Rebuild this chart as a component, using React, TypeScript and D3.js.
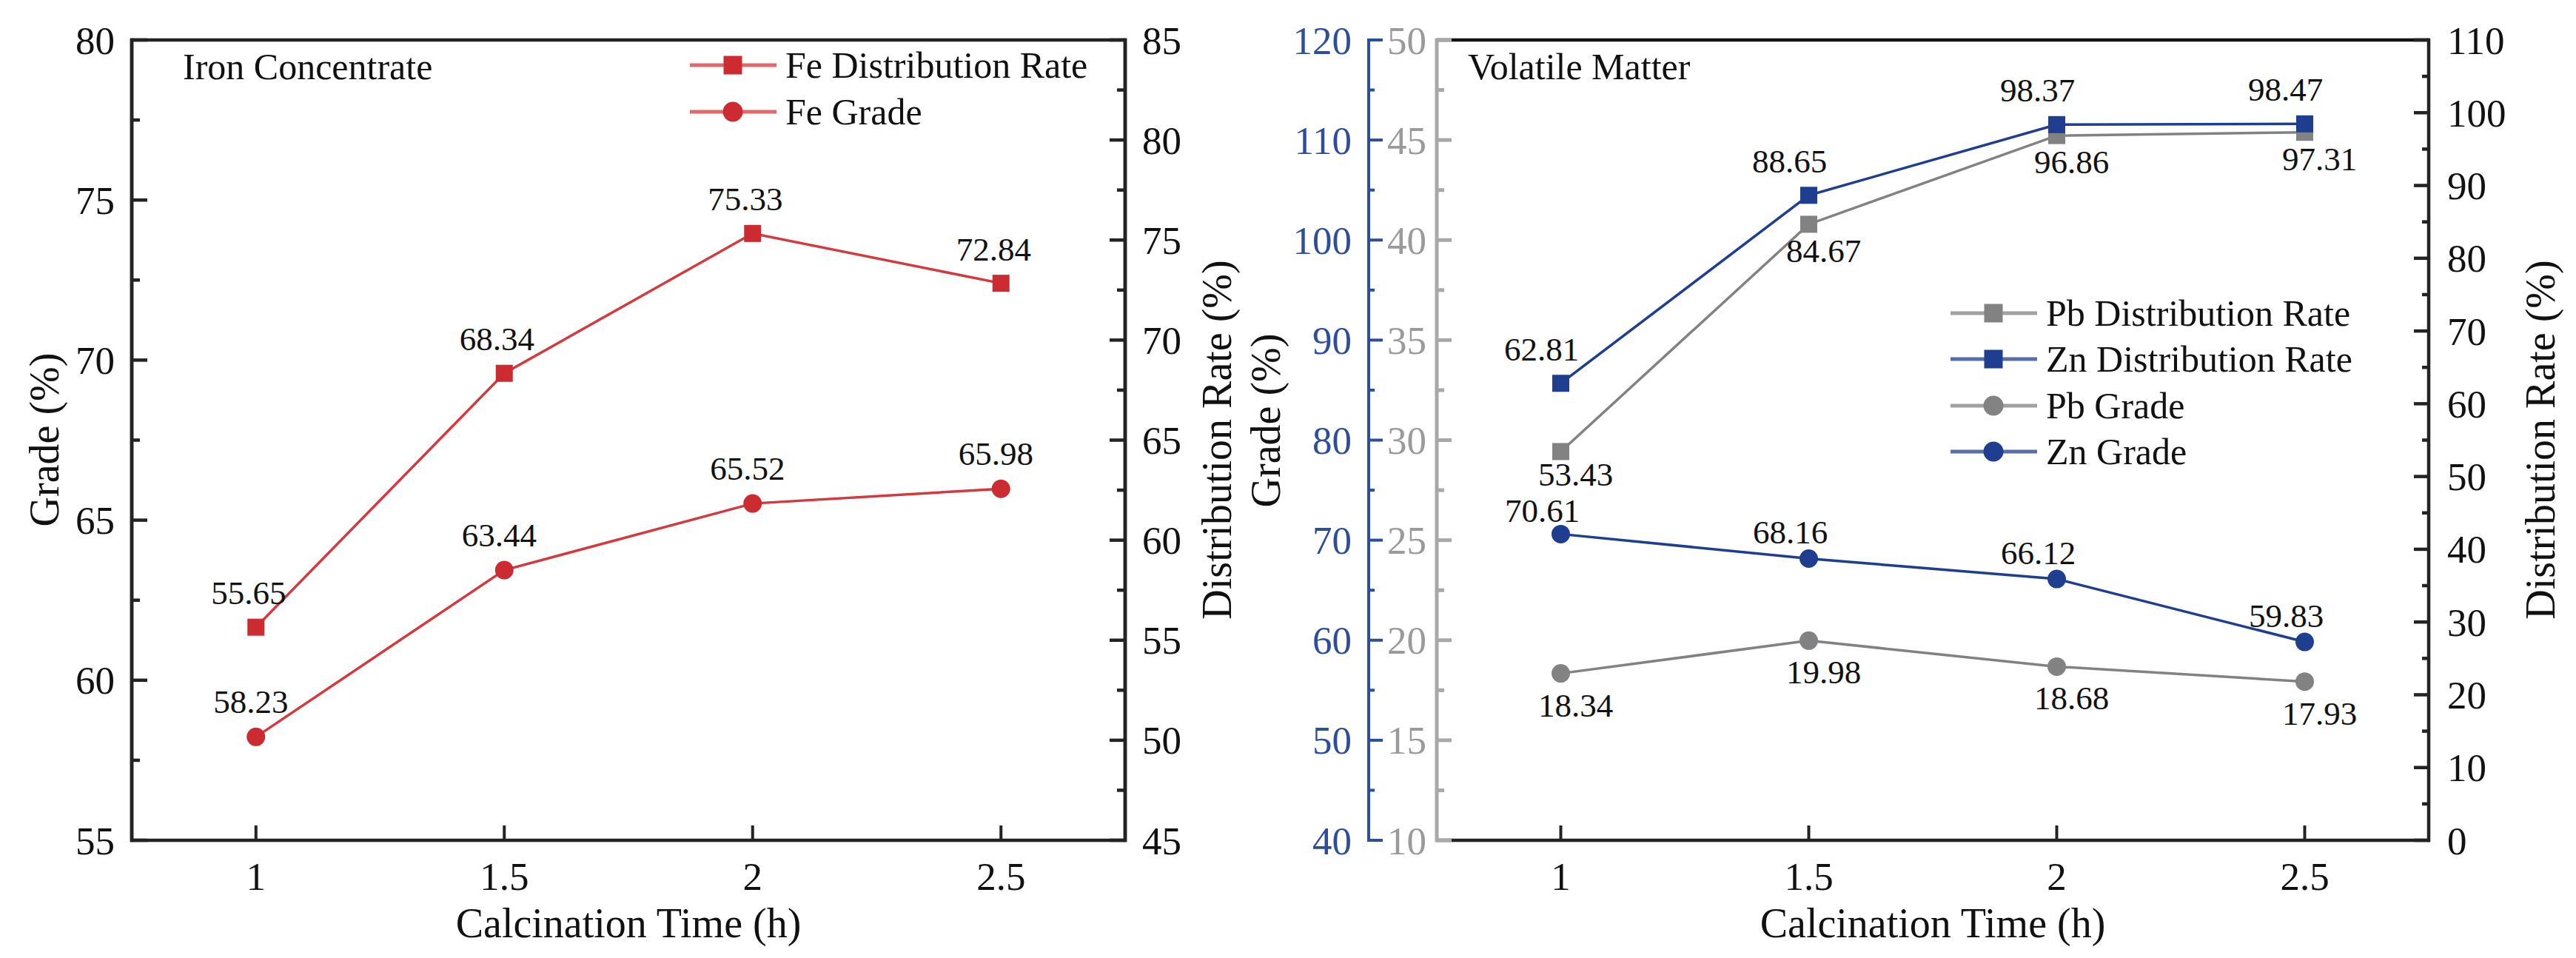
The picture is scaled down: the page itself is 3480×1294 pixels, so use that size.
import React from "react";
import * as d3 from "d3";

// ---------- data ----------
const times = [1, 1.5, 2, 2.5];
const xTickLabels = ["1", "1.5", "2", "2.5"];

// Iron concentrate
const feDistribution = [55.65, 68.34, 75.33, 72.84];
const feGrade = [58.23, 63.44, 65.52, 65.98];

// Volatile matter
const pbDistribution = [53.43, 84.67, 96.86, 97.31];
const znDistribution = [62.81, 88.65, 98.37, 98.47];
const pbGrade = [18.34, 19.98, 18.68, 17.93];
const znGrade = [70.61, 68.16, 66.12, 59.83];

// tick values
const feGradeTicks = [55, 60, 65, 70, 75, 80];
const feDistTicks = [45, 50, 55, 60, 65, 70, 75, 80, 85];
const pbGradeTicks = [10, 15, 20, 25, 30, 35, 40, 45, 50];
const znGradeTicks = [40, 50, 60, 70, 80, 90, 100, 110, 120];
const vmDistTicks = [0, 10, 20, 30, 40, 50, 60, 70, 80, 90, 100, 110];

// ---------- style ----------
const FONT = '"Liberation Serif", monospace';
const RED = "#CC2C31";
const RED_LINE = "#D4393E";
const BLUE = "#1F3E8F";
const GRAY = "#828282";
const GRAY_AXIS = "#A8A8A8";
const BLUE_AXIS = "#2D4D9D";
const FRAME = "#232323";
const TICK_FS = 53;
const LABEL_FS = 45;
const LEGEND_FS = 50;
const TITLE_FS = 56;

const TOP = 54;
const BOTTOM = 1135;

type Marker = "square" | "circle";

const txt = (fs: number, fill = "#111") => ({ fontSize: fs, fill, fontFamily: FONT } as React.CSSProperties);

function MarkerShape({ x, y, kind, color, size }: { x: number; y: number; kind: Marker; color: string; size: number }) {
  if (kind === "square")
    return <rect x={x - size / 2} y={y - size / 2} width={size} height={size} fill={color} />;
  return <circle cx={x} cy={y} r={size / 2 + 1} fill={color} />;
}

function Series({
  xs, ys, xScale, yScale, color, lineColor, kind, labelDx, labelDy,
}: {
  xs: number[]; ys: number[]; xScale: d3.ScaleLinear<number, number>; yScale: d3.ScaleLinear<number, number>;
  color: string; lineColor: string; kind: Marker; labelDx: number; labelDy: number[];
}) {
  const pts: [number, number][] = xs.map((t, i) => [xScale(t), yScale(ys[i])]);
  const path = d3.line()(pts) || "";
  return (
    <g>
      <path d={path} fill="none" stroke={lineColor} strokeWidth={3.5} />
      {pts.map(([px, py], i) => (
        <MarkerShape key={i} x={px} y={py} kind={kind} color={color} size={23} />
      ))}
      {pts.map(([px, py], i) => (
        <text key={"l" + i} x={px + labelDx} y={py + labelDy[i]} textAnchor="middle" style={txt(LABEL_FS)}>
          {ys[i].toFixed(2)}
        </text>
      ))}
    </g>
  );
}

function YAxis({
  x, scale, ticks, step, side, color, labelColor, labelGap, major = 21, minor = 11, width = 4.5, labelFs = TICK_FS,
}: {
  x: number; scale: d3.ScaleLinear<number, number>; ticks: number[]; step: number; side: "left" | "right";
  color: string; labelColor: string; labelGap: number; major?: number; minor?: number; width?: number; labelFs?: number;
}) {
  const dir = side === "left" ? 1 : -1;
  const minors = ticks.slice(0, -1).map((t) => t + step / 2);
  const [d0, d1] = scale.domain();
  return (
    <g>
      <line x1={x} x2={x} y1={scale(d0) + width / 2} y2={scale(d1) - width / 2} stroke={color} strokeWidth={width} />
      {ticks.map((t) => (
        <line key={"M" + t} x1={x} x2={x + dir * major} y1={scale(t)} y2={scale(t)} stroke={color} strokeWidth={width} />
      ))}
      {minors.map((t) => (
        <line key={"m" + t} x1={x} x2={x + dir * minor} y1={scale(t)} y2={scale(t)} stroke={color} strokeWidth={width} />
      ))}
      {ticks.map((t) => (
        <text
          key={"t" + t}
          x={side === "left" ? x - labelGap : x + labelGap}
          y={scale(t) + labelFs * 0.35}
          textAnchor={side === "left" ? "end" : "start"}
          style={txt(labelFs, labelColor)}
        >
          {t}
        </text>
      ))}
    </g>
  );
}

function XAxis({ scale }: { scale: d3.ScaleLinear<number, number> }) {
  return (
    <g>
      {times.map((t, i) => (
        <g key={t}>
          <line x1={scale(t)} x2={scale(t)} y1={BOTTOM} y2={BOTTOM - 20} stroke={FRAME} strokeWidth={4} />
          <text x={scale(t)} y={1202} textAnchor="middle" style={txt(TICK_FS)}>
            {xTickLabels[i]}
          </text>
        </g>
      ))}
      <text x={(scale.range()[0] + scale.range()[1]) / 2} y={1266} textAnchor="middle" style={txt(TITLE_FS)}>
        Calcination Time (h)
      </text>
    </g>
  );
}

function VTitle({ x, y, text }: { x: number; y: number; text: string }) {
  return (
    <text transform={`translate(${x},${y}) rotate(-90)`} textAnchor="middle" style={txt(TITLE_FS)}>
      {text}
    </text>
  );
}

function LegendRow({ x, y, color, lineColor, kind, label }: { x: number; y: number; color: string; lineColor: string; kind: Marker; label: string }) {
  return (
    <g>
      <line x1={x} x2={x + 117} y1={y} y2={y} stroke={lineColor} strokeWidth={5} opacity={0.75} />
      <MarkerShape x={x + 58} y={y} kind={kind} color={color} size={25} />
      <text x={x + 129} y={y + 17} style={txt(LEGEND_FS)}>
        {label}
      </text>
    </g>
  );
}

export default function App() {
  // left panel
  const L0 = 178, L1 = 1520;
  const xL = d3.scaleLinear().domain([0.75, 2.75]).range([L0, L1]);
  const yFeGrade = d3.scaleLinear().domain([55, 80]).range([BOTTOM, TOP]);
  const yFeDist = d3.scaleLinear().domain([45, 85]).range([BOTTOM, TOP]);

  // right panel
  const R0 = 1941, R1 = 3281;
  const BLUE_X = 1849;
  const xR = d3.scaleLinear().domain([0.75, 2.75]).range([R0, R1]);
  const yPb = d3.scaleLinear().domain([10, 50]).range([BOTTOM, TOP]);
  const yZn = d3.scaleLinear().domain([40, 120]).range([BOTTOM, TOP]);
  const yDist = d3.scaleLinear().domain([0, 110]).range([BOTTOM, TOP]);

  return (
    <svg
      width={3480}
      height={1294}
      viewBox="0 0 3480 1294"
      style={{ position: "absolute", left: 0, top: 0, background: "#fff", display: "block", fontFamily: FONT }}
    >
      <rect x={0} y={0} width={3480} height={1294} fill="#fff" />

      {/* ===== Left panel: Iron Concentrate ===== */}
      <g>
        <rect x={L0} y={TOP} width={L1 - L0} height={BOTTOM - TOP} fill="none" stroke={FRAME} strokeWidth={4.5} />
        <YAxis x={L0} scale={yFeGrade} ticks={feGradeTicks} step={5} side="left" color={FRAME} labelColor="#111" labelGap={23} />
        <YAxis x={L1} scale={yFeDist} ticks={feDistTicks} step={5} side="right" color={FRAME} labelColor="#111" labelGap={23} />
        <XAxis scale={xL} />
        <VTitle x={79} y={594} text="Grade (%)" />
        <VTitle x={1663} y={594} text="Distribution Rate (%)" />
        <text x={247} y={107} style={txt(LEGEND_FS)}>Iron Concentrate</text>

        <Series xs={times} ys={feGrade} xScale={xL} yScale={yFeGrade} color={RED} lineColor={RED_LINE} kind="circle" labelDx={-7} labelDy={[-32, -32, -32, -32]} />
        <Series xs={times} ys={feDistribution} xScale={xL} yScale={yFeDist} color={RED} lineColor={RED_LINE} kind="square" labelDx={-10} labelDy={[-31, -31, -31, -31]} />

        <LegendRow x={932} y={88} color={RED} lineColor={RED_LINE} kind="square" label="Fe Distribution Rate" />
        <LegendRow x={932} y={151} color={RED} lineColor={RED_LINE} kind="circle" label="Fe Grade" />
      </g>

      {/* ===== Right panel: Volatile Matter ===== */}
      <g>
        <line x1={R0} x2={R1} y1={TOP} y2={TOP} stroke="#111" strokeWidth={4.5} />
        <line x1={R0} x2={R1 + 2} y1={BOTTOM} y2={BOTTOM} stroke={FRAME} strokeWidth={4.5} />
        <YAxis x={R1} scale={yDist} ticks={vmDistTicks} step={10} side="right" color={FRAME} labelColor="#111" labelGap={25} major={20} minor={9} />
        <YAxis x={R0} scale={yPb} ticks={pbGradeTicks} step={5} side="left" color={GRAY_AXIS} labelColor="#9A9A9A" labelGap={14} major={20} minor={10} width={5} />
        <YAxis x={BLUE_X} scale={yZn} ticks={znGradeTicks} step={10} side="left" color={BLUE_AXIS} labelColor={BLUE_AXIS} labelGap={23} major={19} minor={8} width={4} />
        <XAxis scale={xR} />
        <VTitle x={1729} y={568} text="Grade (%)" />
        <VTitle x={3451} y={594} text="Distribution Rate (%)" />
        <text x={1983} y={107} style={txt(LEGEND_FS)}>Volatile Matter</text>

        <Series xs={times} ys={pbGrade} xScale={xR} yScale={yPb} color={GRAY} lineColor={GRAY} kind="circle" labelDx={20} labelDy={[58, 58, 58, 58]} />
        <Series xs={times} ys={znGrade} xScale={xR} yScale={yZn} color={BLUE} lineColor={BLUE} kind="circle" labelDx={-25} labelDy={[-16, -20, -20, -20]} />
        <Series xs={times} ys={pbDistribution} xScale={xR} yScale={yDist} color={GRAY} lineColor={GRAY} kind="square" labelDx={20} labelDy={[46, 51, 51, 51]} />
        <Series xs={times} ys={znDistribution} xScale={xR} yScale={yDist} color={BLUE} lineColor={BLUE} kind="square" labelDx={-26} labelDy={[-31, -31, -31, -31]} />

        <LegendRow x={2635} y={423} color={GRAY} lineColor={GRAY} kind="square" label="Pb Distribution Rate" />
        <LegendRow x={2635} y={485} color={BLUE} lineColor={BLUE} kind="square" label="Zn Distribution Rate" />
        <LegendRow x={2635} y={548} color={GRAY} lineColor={GRAY} kind="circle" label="Pb Grade" />
        <LegendRow x={2635} y={610} color={BLUE} lineColor={BLUE} kind="circle" label="Zn Grade" />
      </g>
    </svg>
  );
}
